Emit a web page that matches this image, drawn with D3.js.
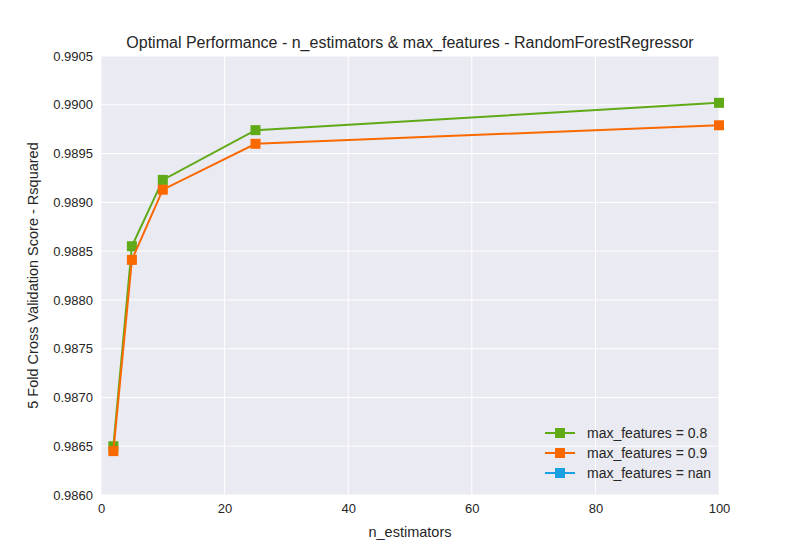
<!DOCTYPE html>
<html><head><meta charset="UTF-8"><script src="https://d3js.org/d3.v7.min.js"></script>
<style>body{margin:0;background:#fff;font-family:"DejaVu Sans",sans-serif}</style></head>
<body><svg width="800" height="550"></svg>
<script>
const nEstimators = [2, 5, 10, 25, 100];
const seriesNames = ["max_features = 0.8", "max_features = 0.9", "max_features = nan"];
const seriesColors = ["#60a917", "#fa6800", "#1ba1e2"];
const scores08 = [0.98650, 0.98855, 0.98923, 0.98974, 0.99002];
const scores09 = [0.98645, 0.98841, 0.98913, 0.98960, 0.98979];
const scoresNan = [];
const xTicks = [0, 20, 40, 60, 80, 100];
const yTicks = d3.range(0, 10).map(i => 0.9860 + i * 0.0005);

const svg = d3.select("svg");
const m = {l: 101, r: 81, t: 56, b: 55};
const W = 800 - m.l - m.r, H = 550 - m.t - m.b;
const x = d3.scaleLinear().domain([0, 100]).range([0, W]);
const y = d3.scaleLinear().domain([0.9860, 0.9905]).range([H, 0]);
const g = svg.append("g").attr("transform", `translate(${m.l},${m.t})`);
g.append("rect").attr("width", W).attr("height", H).attr("fill", "#eaeaf2");
g.selectAll(".gx").data(xTicks).join("line").attr("x1", x).attr("x2", x).attr("y1", 0).attr("y2", H).attr("stroke", "#fff").attr("stroke-width", 1);
g.selectAll(".gy").data(yTicks).join("line").attr("y1", y).attr("y2", y).attr("x1", 0).attr("x2", W).attr("stroke", "#fff").attr("stroke-width", 1);

const font = "Arial, 'Liberation Sans', sans-serif";
const xa = g.append("g").attr("transform", `translate(0,${H})`).call(d3.axisBottom(x).tickValues(xTicks).tickSize(0).tickPadding(9));
const ya = g.append("g").call(d3.axisLeft(y).tickValues(yTicks).tickSize(0).tickPadding(8).tickFormat(d3.format(".4f")));
[xa, ya].forEach(a => { a.select(".domain").remove(); a.selectAll("text").attr("font-size", 13).attr("fill", "#262626").attr("font-family", font); });

const data = [scores08, scores09, scoresNan];
const line = d3.line().x((d, i) => x(nEstimators[i])).y(d => y(d));
data.forEach((s, k) => {
  g.append("path").datum(s).attr("d", line).attr("fill", "none").attr("stroke", seriesColors[k]).attr("stroke-width", 2);
  g.selectAll(".p" + k).data(s).join("rect").attr("x", (d, i) => x(nEstimators[i]) - 5).attr("y", d => y(d) - 5)
    .attr("width", 10).attr("height", 10).attr("fill", seriesColors[k]);
});

svg.append("text").attr("x", m.l + W / 2).attr("y", 48).attr("text-anchor", "middle").attr("font-size", 16).attr("font-family", font).attr("fill", "#262626")
  .text("Optimal Performance - n_estimators & max_features - RandomForestRegressor");
svg.append("text").attr("x", m.l + W / 2).attr("y", 537).attr("text-anchor", "middle").attr("font-size", 14.5).attr("font-family", font).attr("fill", "#262626").text("n_estimators");
svg.append("text").attr("transform", `translate(38,${m.t + H / 2}) rotate(-90)`).attr("text-anchor", "middle").attr("font-size", 14.5).attr("font-family", font).attr("fill", "#262626").text("5 Fold Cross Validation Score - Rsquared");

const lg = svg.append("g").attr("transform", "translate(545,433)");
seriesNames.forEach((n, k) => {
  const r = lg.append("g").attr("transform", `translate(0,${k * 20})`);
  r.append("line").attr("x1", 0).attr("x2", 30).attr("stroke", seriesColors[k]).attr("stroke-width", 2);
  r.append("rect").attr("x", 10).attr("y", -5).attr("width", 10).attr("height", 10).attr("fill", seriesColors[k]);
  r.append("text").attr("x", 42).attr("y", 5).attr("font-size", 14).attr("font-family", font).attr("fill", "#262626").text(n);
});
</script></body></html>
